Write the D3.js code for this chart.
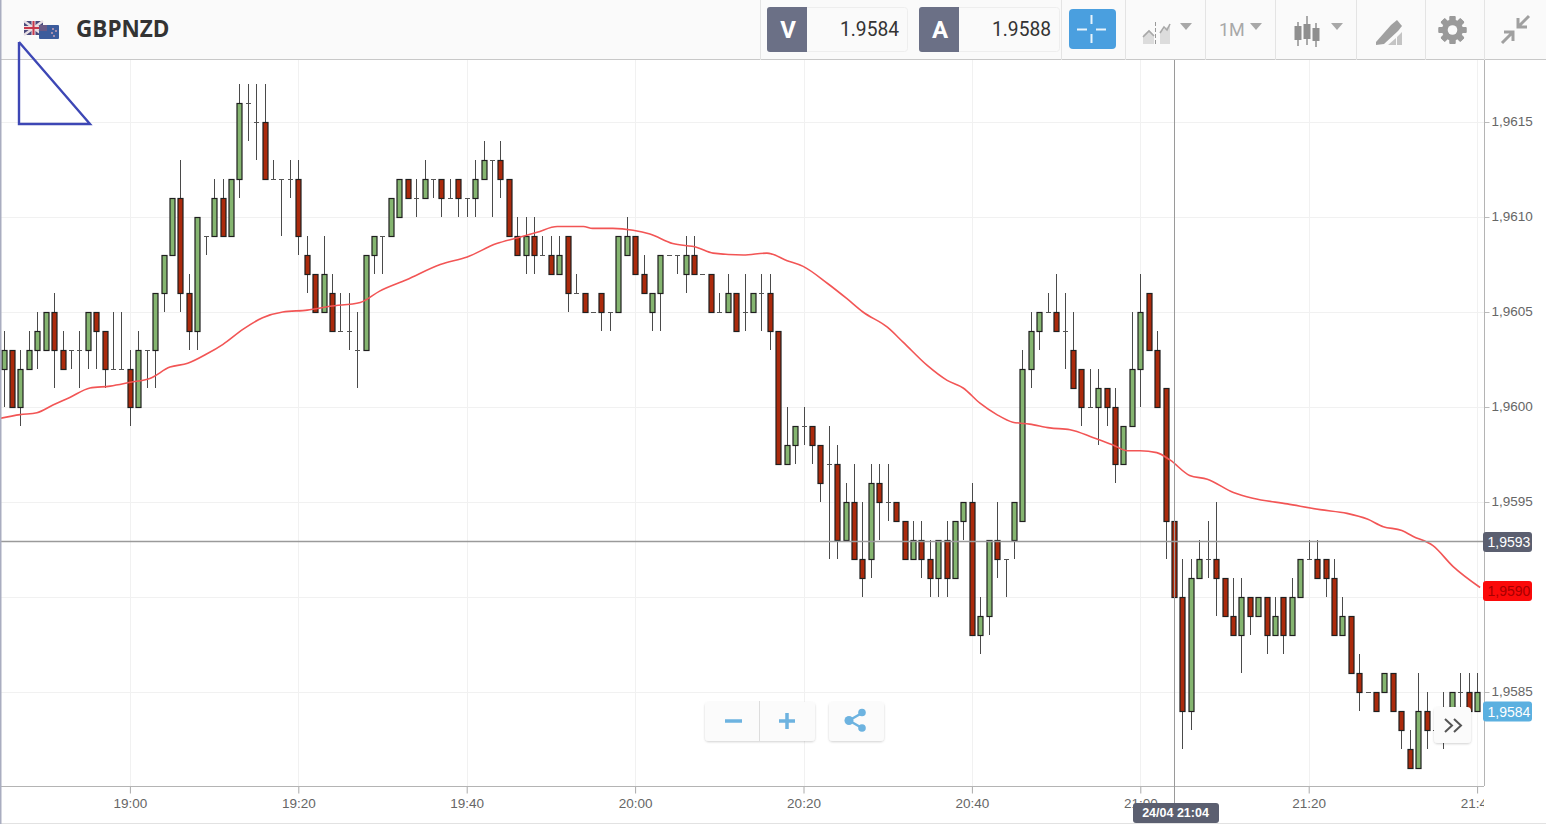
<!DOCTYPE html>
<html><head><meta charset="utf-8">
<script src="https://cdn.jsdelivr.net/npm/d3@7"></script>
<style>
html,body{margin:0;padding:0;background:#fff;overflow:hidden}
svg{display:block}
</style></head><body><svg id="c" width="1546" height="824"></svg>
<script>
const symbol = "GBPNZD";
const bidLabel = "V", askLabel = "A", bidValue = "1.9584", askValue = "1.9588";
const periodLabel = "1M";
const firstMinute = -15; // minutes from 19:00 of the first candle
const opens = [
1.9602,1.9603,1.9600,1.9602,1.9603,1.9603,1.9605,1.9603,1.9603,1.9603,
1.9603,1.9605,1.9604,1.9602,1.9602,1.9602,1.9600,1.9603,1.9603,1.9606,
1.9608,1.9611,1.9606,1.9604,1.9609,1.9609,1.9611,1.9609,1.9612,1.9616,
1.9615,1.9615,1.9612,1.9612,1.9612,1.9612,1.9608,1.9607,1.9605,1.9606,
1.9604,1.9604,1.9603,1.9603,1.9608,1.9609,1.9609,1.9610,1.9612,1.9611,
1.9611,1.9612,1.9612,1.9611,1.9612,1.9611,1.9611,1.9612,1.9613,1.9613,
1.9612,1.9609,1.9608,1.9609,1.9608,1.9608,1.9607,1.9609,1.9606,1.9606,
1.9605,1.9606,1.9605,1.9605,1.9608,1.9609,1.9607,1.9605,1.9606,1.9608,
1.9608,1.9607,1.9608,1.9607,1.9607,1.9605,1.9605,1.9606,1.9605,1.9605,
1.9606,1.9606,1.9604,1.9597,1.9598,1.9599,1.9599,1.9598,1.9597,1.9597,
1.9593,1.9595,1.9592,1.9592,1.9596,1.9595,1.9595,1.9594,1.9592,1.9593,
1.9592,1.9591,1.9593,1.9591,1.9594,1.9595,1.9588,1.9589,1.9593,1.9592,
1.9593,1.9594,1.9602,1.9604,1.9605,1.9605,1.9604,1.9603,1.9602,1.9600,
1.9600,1.9601,1.9600,1.9597,1.9599,1.9602,1.9606,1.9603,1.9601,1.9594,
1.9590,1.9584,1.9591,1.9592,1.9592,1.9591,1.9589,1.9588,1.9590,1.9589,
1.9590,1.9588,1.9590,1.9588,1.9590,1.9592,1.9592,1.9592,1.9591,1.9588,
1.9589,1.9586,1.9585,1.9585,1.9585,1.9586,1.9584,1.9582,1.9581,1.9584,
1.9583,1.9584,1.9584,1.9585,1.9585,1.9584];
const closes = [
1.9603,1.9600,1.9602,1.9603,1.9604,1.9605,1.9603,1.9602,1.9603,1.9603,
1.9605,1.9604,1.9602,1.9602,1.9602,1.9600,1.9603,1.9603,1.9606,1.9608,
1.9611,1.9606,1.9604,1.9610,1.9609,1.9611,1.9609,1.9612,1.9616,1.9616,
1.9615,1.9612,1.9612,1.9612,1.9612,1.9609,1.9607,1.9605,1.9607,1.9604,
1.9604,1.9604,1.9603,1.9608,1.9609,1.9609,1.9611,1.9612,1.9611,1.9611,
1.9612,1.9612,1.9611,1.9611,1.9611,1.9611,1.9612,1.9613,1.9613,1.9612,
1.9609,1.9608,1.9609,1.9608,1.9608,1.9607,1.9608,1.9606,1.9606,1.9605,
1.9605,1.9605,1.9605,1.9609,1.9609,1.9607,1.9606,1.9606,1.9608,1.9608,
1.9608,1.9608,1.9607,1.9607,1.9605,1.9605,1.9606,1.9604,1.9605,1.9606,
1.9606,1.9604,1.9597,1.9598,1.9599,1.9599,1.9598,1.9596,1.9597,1.9593,
1.9595,1.9592,1.9591,1.9596,1.9595,1.9595,1.9594,1.9592,1.9593,1.9592,
1.9591,1.9593,1.9591,1.9594,1.9595,1.9588,1.9589,1.9593,1.9592,1.9592,
1.9595,1.9602,1.9604,1.9605,1.9605,1.9604,1.9604,1.9601,1.9600,1.9600,
1.9601,1.9600,1.9597,1.9599,1.9602,1.9605,1.9603,1.9600,1.9594,1.9590,
1.9584,1.9591,1.9592,1.9592,1.9591,1.9589,1.9588,1.9590,1.9589,1.9590,
1.9588,1.9589,1.9588,1.9590,1.9592,1.9592,1.9591,1.9591,1.9588,1.9589,
1.9586,1.9585,1.9585,1.9584,1.9586,1.9584,1.9583,1.9581,1.9584,1.9583,
1.9583,1.9584,1.9585,1.9585,1.9584,1.9585];
const highs = [
1.9604,1.9603,1.9603,1.9604,1.9605,1.9605,1.9606,1.9604,1.9603,1.9604,
1.9605,1.9605,1.9604,1.9605,1.9605,1.9603,1.9604,1.9603,1.9606,1.9608,
1.9611,1.9613,1.9607,1.9610,1.9609,1.9612,1.9612,1.9612,1.9617,1.9617,
1.9617,1.9617,1.9613,1.9612,1.9613,1.9613,1.9609,1.9607,1.9609,1.9607,
1.9606,1.9606,1.9605,1.9608,1.9609,1.9609,1.9611,1.9612,1.9612,1.9612,
1.9613,1.9612,1.9612,1.9612,1.9612,1.9611,1.9613,1.9614,1.9613,1.9614,
1.9612,1.9610,1.9610,1.9610,1.9609,1.9609,1.9609,1.9609,1.9607,1.9606,
1.9605,1.9606,1.9605,1.9609,1.9610,1.9609,1.9608,1.9606,1.9608,1.9608,
1.9608,1.9609,1.9609,1.9607,1.9607,1.9606,1.9607,1.9606,1.9607,1.9606,
1.9607,1.9607,1.9604,1.9600,1.9599,1.9600,1.9599,1.9598,1.9599,1.9598,
1.9596,1.9597,1.9595,1.9597,1.9597,1.9597,1.9595,1.9594,1.9594,1.9594,
1.9593,1.9593,1.9594,1.9594,1.9595,1.9596,1.9590,1.9593,1.9595,1.9592,
1.9595,1.9603,1.9605,1.9605,1.9606,1.9607,1.9606,1.9605,1.9602,1.9602,
1.9602,1.9601,1.9601,1.9599,1.9605,1.9607,1.9606,1.9604,1.9601,1.9596,
1.9592,1.9592,1.9593,1.9594,1.9595,1.9591,1.9591,1.9591,1.9590,1.9590,
1.9590,1.9590,1.9590,1.9591,1.9592,1.9593,1.9593,1.9592,1.9592,1.9590,
1.9589,1.9587,1.9585,1.9585,1.9586,1.9586,1.9584,1.9583,1.9586,1.9585,
1.9583,1.9585,1.9585,1.9586,1.9586,1.9586];
const lows = [
1.9600,1.9600,1.9599,1.9602,1.9602,1.9603,1.9601,1.9602,1.9602,1.9601,
1.9602,1.9602,1.9601,1.9602,1.9602,1.9599,1.9600,1.9601,1.9601,1.9605,
1.9608,1.9605,1.9603,1.9603,1.9608,1.9609,1.9609,1.9609,1.9611,1.9614,
1.9613,1.9612,1.9612,1.9609,1.9611,1.9608,1.9606,1.9605,1.9605,1.9604,
1.9604,1.9603,1.9601,1.9603,1.9607,1.9607,1.9609,1.9610,1.9611,1.9610,
1.9611,1.9611,1.9610,1.9611,1.9610,1.9610,1.9610,1.9612,1.9610,1.9611,
1.9609,1.9608,1.9607,1.9607,1.9608,1.9607,1.9607,1.9605,1.9606,1.9605,
1.9605,1.9604,1.9604,1.9605,1.9608,1.9607,1.9606,1.9604,1.9604,1.9608,
1.9607,1.9606,1.9607,1.9607,1.9605,1.9605,1.9605,1.9604,1.9604,1.9605,
1.9604,1.9603,1.9597,1.9597,1.9597,1.9598,1.9597,1.9595,1.9592,1.9592,
1.9593,1.9592,1.9590,1.9591,1.9593,1.9594,1.9594,1.9592,1.9592,1.9591,
1.9590,1.9590,1.9590,1.9591,1.9593,1.9588,1.9587,1.9588,1.9591,1.9590,
1.9592,1.9594,1.9601,1.9603,1.9605,1.9604,1.9602,1.9601,1.9599,1.9600,
1.9598,1.9599,1.9596,1.9597,1.9599,1.9600,1.9603,1.9600,1.9592,1.9587,
1.9582,1.9583,1.9591,1.9591,1.9589,1.9589,1.9588,1.9586,1.9588,1.9589,
1.9587,1.9588,1.9587,1.9588,1.9590,1.9592,1.9591,1.9590,1.9588,1.9588,
1.9586,1.9584,1.9585,1.9584,1.9585,1.9584,1.9582,1.9581,1.9581,1.9582,
1.9583,1.9582,1.9584,1.9584,1.9584,1.9584];
const maMinutes = [-15.5,-13.1,-11.1,-9.2,-7.2,-4.8,-2.4,0,2.3,4.7,6.8,9.1,11,13.4,15.7,18.1,21,23.7,27.3,29.6,32.8,36.8,40,43.5,45.9,48.3,50.7,52.2,53.8,54.9,57.3,59.7,61.7,64.4,67.3,69.2,72.8,75.6,78,79.9,82.8,85.1,87,89.9,91.8,94.6,97,98.9,100.9,102.9,104.8,106.8,109.2,111.6,114.3,116.7,118.4,119.9,121.9,123.5,125.8,127.9,131,133.3,137.4,141.3,144.5,146.9,148.8,151,152.3,154.7,157.1,160.3];
const maValues = [1.95994,1.95996,1.95997,1.96001,1.96005,1.96010,1.96011,1.96013,1.96015,1.96021,1.96023,1.96028,1.96033,1.96041,1.96047,1.96050,1.96051,1.96053,1.96055,1.96061,1.96067,1.96075,1.96079,1.96086,1.96089,1.96092,1.96095,1.96095,1.96095,1.96094,1.96094,1.96093,1.96091,1.96086,1.96084,1.96081,1.96080,1.96081,1.96077,1.96074,1.96065,1.96057,1.96050,1.96042,1.96034,1.96022,1.96014,1.96010,1.96002,1.95996,1.95992,1.95991,1.95989,1.95988,1.95984,1.95980,1.95977,1.95977,1.95976,1.95972,1.95964,1.95962,1.95955,1.95952,1.95949,1.95946,1.95944,1.95941,1.95937,1.95935,1.95932,1.95927,1.95916,1.95905];
const xTickMinutes = [0,20,40,60,80,100,120,140,160];
const xTickLabels = ["19:00","19:20","19:40","20:00","20:20","20:40","21:00","21:20","21:40"];
const yTickValues = [1.9615,1.9610,1.9605,1.9600,1.9595,1.9590,1.9585];
const yTickLabels = ["1,9615","1,9610","1,9605","1,9600","1,9595","","1,9585"];
const crossPrice = 1.9593, crossMinute = 124, crossPriceLabel = "1,9593", crossTimeLabel = "24/04 21:04";
const maPrice = 1.95905, maPriceLabel = "1,9590";
const lastPrice = 1.9584, lastPriceLabel = "1,9584";

const svg = d3.select("#c");
const plotL = 0, plotR = 1484, plotT = 60, plotB = 786;
const x = d3.scaleLinear().domain([0,160]).range([130.4,1477.6]);
const y = d3.scaleLinear().domain([1.9615,1.9585]).range([122,692]);
const tickFont = "'Liberation Sans',Arial,sans-serif";

svg.append("rect").attr("width",1546).attr("height",824).attr("fill","#fff");
const defs = svg.append("defs");
defs.append("clipPath").attr("id","plot").append("rect").attr("x",plotL).attr("y",plotT).attr("width",plotR-plotL).attr("height",plotB-plotT);
defs.append("clipPath").attr("id","xclip").append("rect").attr("x",0).attr("y",plotB).attr("width",plotR).attr("height",38);
const sh = defs.append("filter").attr("id","sh").attr("x","-10%").attr("y","-10%").attr("width","120%").attr("height","130%");
sh.append("feDropShadow").attr("dx",0).attr("dy",1).attr("stdDeviation",1).attr("flood-color","#000").attr("flood-opacity",0.18);

// grid
const grid = svg.append("g").attr("clip-path","url(#plot)");
grid.selectAll(".gy").data(yTickValues).join("line").attr("x1",plotL).attr("x2",plotR)
  .attr("y1",d=>Math.round(y(d))+.5).attr("y2",d=>Math.round(y(d))+.5).attr("stroke","#f1f1f1");
grid.selectAll(".gx").data(xTickMinutes).join("line").attr("y1",plotT).attr("y2",plotB)
  .attr("x1",d=>Math.floor(x(d))+.5).attr("x2",d=>Math.floor(x(d))+.5).attr("stroke","#f1f1f1");

// candles
const candles = opens.map((o,i)=>({m:firstMinute+i,o,c:closes[i],h:highs[i],l:lows[i]}));
const cg = svg.append("g").attr("clip-path","url(#plot)");
const px = d=>Math.floor(x(d.m))+.5;
cg.selectAll(".w").data(candles).join("line").attr("x1",px).attr("x2",px)
  .attr("y1",d=>y(d.h)).attr("y2",d=>y(d.l)).attr("stroke","#4a4a4a").attr("stroke-width",1);
cg.selectAll(".d").data(candles.filter(d=>d.o===d.c)).join("line")
  .attr("x1",d=>px(d)-2.5).attr("x2",d=>px(d)+2.5).attr("y1",d=>Math.round(y(d.o))+.5).attr("y2",d=>Math.round(y(d.o))+.5)
  .attr("stroke","#555").attr("stroke-width",1);
cg.selectAll(".b").data(candles.filter(d=>d.o!==d.c)).join("rect")
  .attr("x",d=>px(d)-2.5).attr("width",5)
  .attr("y",d=>Math.round(y(Math.max(d.o,d.c)))+.5)
  .attr("height",d=>Math.round(Math.abs(y(d.o)-y(d.c))))
  .attr("fill",d=>d.c>d.o?"#85b570":"#ab2a0c").attr("stroke","#1f1f1f").attr("stroke-width",1.2);

// moving average
const maData = maMinutes.map((m,i)=>[m,maValues[i]]);
svg.append("path").attr("clip-path","url(#plot)").datum(maData)
  .attr("d",d3.line().x(d=>x(d[0])).y(d=>y(d[1])).curve(d3.curveMonotoneX))
  .attr("fill","none").attr("stroke","#f25555").attr("stroke-width",1.6);

// axes
const yAxis = d3.axisRight(y).tickValues(yTickValues).tickSize(5).tickPadding(2)
  .tickFormat((d,i)=>yTickLabels[i]);
const gy = svg.append("g").attr("transform",`translate(${plotR+.5},0)`).call(yAxis);
gy.select(".domain").remove();
gy.selectAll("line").attr("stroke","#bbb");
gy.selectAll("text").attr("font-family",tickFont).attr("font-size",13.5).attr("fill","#666").attr("transform","translate(0,-1)");
svg.append("line").attr("x1",plotR+.5).attr("x2",plotR+.5).attr("y1",plotT).attr("y2",plotB).attr("stroke","#b4b4b4");

const xAxis = d3.axisBottom(x).tickValues(xTickMinutes).tickSize(7).tickPadding(5)
  .tickFormat((d,i)=>xTickLabels[i]);
const gx = svg.append("g").attr("clip-path","url(#xclip)").append("g").attr("transform",`translate(-0.5,${plotB+.5})`).call(xAxis);
gx.select(".domain").remove();
gx.selectAll("line").attr("stroke","#aaa");
gx.selectAll("text").attr("font-family",tickFont).attr("font-size",13.5).attr("fill","#666");
svg.append("line").attr("x1",0).attr("x2",plotR).attr("y1",plotB+.5).attr("y2",plotB+.5).attr("stroke","#b4b4b4").attr("stroke-width",1);
svg.append("line").attr("x1",0).attr("x2",1546).attr("y1",823.5).attr("y2",823.5).attr("stroke","#e2e2e2");

// crosshair
svg.append("line").attr("x1",0).attr("x2",plotR).attr("y1",Math.round(y(crossPrice))+1.5).attr("y2",Math.round(y(crossPrice))+1.5).attr("stroke","#9a9a9a").attr("stroke-width",1.3);
svg.append("line").attr("x1",Math.floor(x(crossMinute))+.5).attr("x2",Math.floor(x(crossMinute))+.5).attr("y1",plotT).attr("y2",803).attr("stroke","#9a9a9a");

// price badges
function badge(cy,fill,txt,color){
  const g=svg.append("g");
  g.append("rect").attr("x",1483).attr("y",cy-10).attr("width",49).attr("height",20).attr("rx",3).attr("fill",fill);
  g.append("text").attr("x",1509).attr("y",cy+5).attr("text-anchor","middle").attr("font-family",tickFont).attr("font-size",14).attr("fill",color).text(txt);
}
badge(y(crossPrice)+2,"#5b5f70",crossPriceLabel,"#fff");
badge(y(maPrice)+3.5,"#fb0a0a",maPriceLabel,"#a80000");
badge(y(lastPrice)+0.5,"#5bb0e0",lastPriceLabel,"#fff");

// time badge
svg.append("rect").attr("x",1133).attr("y",803).attr("width",86).attr("height",20).attr("rx",3).attr("fill","#5b5f70");
svg.append("text").attr("x",1175.5).attr("y",817).attr("text-anchor","middle").attr("font-family",tickFont).attr("font-weight","bold").attr("font-size",12.5).attr("fill","#fff").text(crossTimeLabel);

// toolbar
const tb = svg.append("g");
tb.append("rect").attr("x",0).attr("y",0).attr("width",1546).attr("height",59.5).attr("fill","#fafafa");
tb.append("line").attr("x1",0).attr("x2",1546).attr("y1",59.5).attr("y2",59.5).attr("stroke","#c8c8c8");
[760,1061,1125,1205,1275,1356,1425,1484].forEach(sx=>tb.append("line").attr("x1",sx+.5).attr("x2",sx+.5).attr("y1",0).attr("y2",60).attr("stroke","#e4e4e4"));
svg.append("rect").attr("x",0).attr("y",0).attr("width",1.5).attr("height",824).attr("fill","#a9adc0");

// flags
tb.append("rect").attr("x",24).attr("y",21).attr("width",19).attr("height",14).attr("fill","#4a4a7c");
tb.append("path").attr("d","M24 21L43 35M43 21L24 35").attr("stroke","#e8dfe4").attr("stroke-width",2.5);
tb.append("path").attr("d","M33.5 21V35M24 28H43").attr("stroke","#eadfe2").attr("stroke-width",4);
tb.append("path").attr("d","M33.5 21V35M24 28H43").attr("stroke","#c8384c").attr("stroke-width",2);
tb.append("rect").attr("x",39).attr("y",25).attr("width",20).attr("height",14).attr("rx",1).attr("fill","#3c5c9c");
tb.append("rect").attr("x",39).attr("y",25).attr("width",8).attr("height",6).attr("fill","#6a5a86");
[[53,29],[56,31],[52,33],[54,36]].forEach(p=>tb.append("circle").attr("cx",p[0]).attr("cy",p[1]).attr("r",.9).attr("fill","#d8a8b8"));

tb.append("text").attr("x",76).attr("y",37).attr("font-family","'Open Sans',sans-serif").attr("font-weight",700).attr("font-size",22.5).attr("fill","#333").text(symbol);

function quote(bx,letter,val){
  tb.append("rect").attr("x",bx+.5).attr("y",7.5).attr("width",140).attr("height",44).attr("rx",3).attr("fill","#fafafa").attr("stroke","#eee");
  tb.append("path").attr("d",`M${bx+3} 7H${bx+40}V52H${bx+3}Q${bx} 52 ${bx} 49V10Q${bx} 7 ${bx+3} 7Z`).attr("fill","#6b7086");
  tb.append("text").attr("x",bx+21).attr("y",38).attr("text-anchor","middle").attr("font-family","Roboto,sans-serif").attr("font-weight",700).attr("font-size",24).attr("fill","#fff").text(letter);
  tb.append("text").attr("x",bx+132).attr("y",36).attr("text-anchor","end").attr("font-family","Roboto,sans-serif").attr("font-size",21).attr("textLength",59).attr("lengthAdjust","spacingAndGlyphs").attr("fill","#333").text(val);
}
quote(767,bidLabel,bidValue);
quote(919,askLabel,askValue);

tb.append("rect").attr("x",1069).attr("y",9).attr("width",47).attr("height",40).attr("rx",4).attr("fill","#4a9fdf");
tb.append("path").attr("d","M1077 29.5H1087M1096 29.5H1106M1091.5 15V24M1091.5 34V43").attr("stroke","#e8f4fc").attr("stroke-width",2).attr("fill","none");

const ic = "#a8a8a8";
// chart-type icon
tb.append("path").attr("d","M1143 44V35L1149 30L1154 35V44Z").attr("fill","#dcdcdc");
tb.append("path").attr("d","M1160 44V32L1170 25V44Z").attr("fill","#dcdcdc");
tb.append("path").attr("d","M1143 37L1149 31L1154 36M1160 33L1164 27L1167 30L1170 24").attr("fill","none").attr("stroke",ic).attr("stroke-width",1.6);
tb.append("path").attr("d","M1155.5 22V46").attr("stroke","#999").attr("stroke-dasharray","4 2");
const caret = cx=>tb.append("path").attr("d",`M${cx-6} 23H${cx+6}L${cx} 30Z`).attr("fill",ic);
caret(1186);
tb.append("text").attr("x",1219).attr("y",36).attr("font-family","Roboto,sans-serif").attr("font-size",18).attr("fill",ic).text(periodLabel);
caret(1256);
// candle icon
[[1298,26,40,22,46],[1307,24,39,16,45],[1316,28,41,23,47]].forEach(a=>{
  tb.append("line").attr("x1",a[0]).attr("x2",a[0]).attr("y1",a[3]).attr("y2",a[4]).attr("stroke","#8f8f8f").attr("stroke-width",1.5);
  tb.append("rect").attr("x",a[0]-3.5).attr("y",a[1]).attr("width",7).attr("height",a[2]-a[1]).attr("fill","#8f8f8f");
});
caret(1337);
// draw icon
tb.append("path").attr("d","M1376 42L1391 25L1397 20L1402 26L1398 31L1384 44L1376 45Z").attr("fill","#a0a0a0");
tb.append("path").attr("d","M1388 45L1396 45L1396 38ZM1397 45H1402V32L1397 37Z").attr("fill","#c4c4c4");
// gear
const gearAngles = d3.range(8).map(i=>i*45);
gearAngles.forEach(a=>tb.append("rect").attr("x",1449.5).attr("y",16).attr("width",6).attr("height",28).attr("rx",1).attr("fill","#9a9a9a").attr("transform",`rotate(${a} 1452.5 30)`));
tb.append("circle").attr("cx",1452.5).attr("cy",30).attr("r",10.5).attr("fill","#9a9a9a");
tb.append("circle").attr("cx",1452.5).attr("cy",30).attr("r",4.8).attr("fill","#fafafa");
// compress
tb.append("path").attr("d","M1529 16L1519 26M1518 18V27H1527M1502 43L1512 33M1513 41V32H1504").attr("fill","none").attr("stroke","#a0a0a0").attr("stroke-width",3);

// drawing annotation (sits above the toolbar)
svg.append("path").attr("d",d3.line()([[19,42],[19,124],[90,124],[19,42]])).attr("fill","none").attr("stroke","#3d47b5").attr("stroke-width",2.4);

// floating buttons
const fb = svg.append("g");
function fbtn(bx,by,w,h){fb.append("rect").attr("x",bx).attr("y",by).attr("width",w).attr("height",h).attr("rx",4).attr("fill","#fbfbfb").attr("filter","url(#sh)");}
fbtn(705,702,110,39);
fb.append("line").attr("x1",759.5).attr("x2",759.5).attr("y1",701).attr("y2",741).attr("stroke","#ddd");
fb.append("path").attr("d","M725 721H742").attr("stroke","#6db3e0").attr("stroke-width",3.5);
fb.append("path").attr("d","M779 721H795M787 713V729").attr("stroke","#6db3e0").attr("stroke-width",3.5);
fbtn(829,702,55,39);
fb.append("path").attr("d","M849 720.5L862 713M849 720.5L862 728").attr("stroke","#6db3e0").attr("stroke-width",2.5);
[[849,720.5,4.5],[862,712.5,3.8],[862,728,3.8]].forEach(c=>fb.append("circle").attr("cx",c[0]).attr("cy",c[1]).attr("r",c[2]).attr("fill","#6db3e0"));
fbtn(1434,707,37,36);
fb.append("path").attr("d","M1445 719L1452 725.5L1445 732M1454 719L1461 725.5L1454 732").attr("fill","none").attr("stroke","#555").attr("stroke-width",2);
</script></body></html>
